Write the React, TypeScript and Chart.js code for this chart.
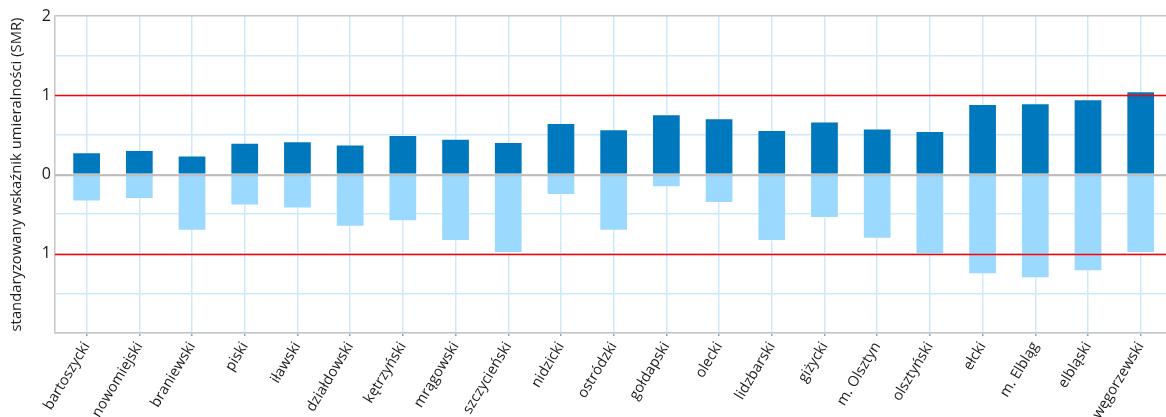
import React, { useEffect, useRef } from "react";
import { Chart, registerables } from "chart.js";

Chart.register(...registerables);

const categories = [
  "bartoszycki",
  "nowomiejski",
  "braniewski",
  "piski",
  "iławski",
  "działdowski",
  "kętrzyński",
  "mrągowski",
  "szczycieński",
  "nidzicki",
  "ostródzki",
  "gołdapski",
  "olecki",
  "lidzbarski",
  "giżycki",
  "m. Olsztyn",
  "olsztyński",
  "ełcki",
  "m. Elbląg",
  "elbląski",
  "węgorzewski",
];

const upperValues = [
  0.28, 0.31, 0.24, 0.4, 0.42, 0.38, 0.5, 0.45, 0.41, 0.65, 0.57, 0.76, 0.71,
  0.56, 0.67, 0.58, 0.55, 0.89, 0.9, 0.95, 1.05,
];

const lowerValues = [
  -0.34, -0.31, -0.71, -0.39, -0.43, -0.66, -0.59, -0.84, -0.99, -0.26, -0.71,
  -0.16, -0.36, -0.84, -0.55, -0.81, -1.01, -1.26, -1.31, -1.22, -0.99,
];

const yGridValues = [-2, -1.5, -1, -0.5, 0, 0.5, 1, 1.5, 2];
const yLabelledValues = [2, 1, 0, -1];
const referenceLines = [1, -1];

const yTitle = "standaryzowany wskaźnik umieralności (SMR)";

const DARK = "#0078BE";
const LIGHT = "#9BD9FF";
const GRID_BLUE = "#CDE9FB";
const AXIS_GREY = "#C6C6C6";
const RED = "#FF0000";
const FONT = "'Open Sans', 'Noto Sans', sans-serif";
const LABEL_ROTATION = 59;

const overlayLines = {
  id: "overlayLines",
  afterDatasetsDraw(chart: any) {
    const { ctx, chartArea, scales } = chart;
    const y = scales.y;
    ctx.save();
    ctx.lineWidth = 1.5;
    ctx.strokeStyle = "#BDBDBD";
    const y0 = Math.round(y.getPixelForValue(0)) + 0.5;
    ctx.beginPath();
    ctx.moveTo(chartArea.left, y0);
    ctx.lineTo(chartArea.right, y0);
    ctx.stroke();
    ctx.strokeStyle = RED;
    for (const v of referenceLines) {
      const py = Math.round(y.getPixelForValue(v)) + 0.5;
      ctx.beginPath();
      ctx.moveTo(chartArea.left, py);
      ctx.lineTo(chartArea.right, py);
      ctx.stroke();
    }
    ctx.restore();
  },
};

export default function App() {
  const ref = useRef<HTMLCanvasElement>(null);

  useEffect(() => {
    document.body.style.margin = "0";
    const chart = new Chart(ref.current!, {
      type: "bar",
      data: {
        datasets: [
          {
            data: upperValues.map((v, i) => ({ x: i, y: v })),
            backgroundColor: DARK,
            borderColor: "rgba(255,255,255,0.35)",
            borderWidth: 1,
            barPercentage: 0.545,
            categoryPercentage: 1,
          },
          {
            data: lowerValues.map((v, i) => ({ x: i, y: v })),
            backgroundColor: LIGHT,
            borderColor: "rgba(255,255,255,0.5)",
            borderWidth: 1,
            barPercentage: 0.545,
            categoryPercentage: 1,
          },
        ],
      } as any,
      options: {
        responsive: false,
        animation: false,
        layout: { padding: { top: 16, left: 0, right: 0, bottom: 0 } },
        plugins: {
          legend: { display: false },
          tooltip: { enabled: false },
        },
        scales: {
          x: {
            type: "linear",
            min: -0.6,
            max: 20.48,
            stacked: true,
            offset: false,
            afterBuildTicks: (s: any) => {
              s.ticks = categories.map((_, i) => ({ value: i }));
            },
            afterCalculateLabelRotation: (s: any) => {
              s.labelRotation = LABEL_ROTATION;
            },
            afterFit: (s: any) => {
              s.height = 84;
            },
            ticks: {
              autoSkip: false,
              maxRotation: LABEL_ROTATION,
              minRotation: LABEL_ROTATION,
              padding: 3,
              color: "#1a1a1a",
              font: { family: FONT, size: 14.5 },
              callback: (v: any) => categories[v as number] ?? "",
            },
            grid: {
              offset: false,
              color: GRID_BLUE,
              lineWidth: 1.5,
              tickLength: 3,
              tickColor: "#A0A0A0",
            },
            border: { color: AXIS_GREY, width: 1.5 },
          },
          y: {
            min: -2,
            max: 2,
            stacked: true,
            afterBuildTicks: (s: any) => {
              s.ticks = yGridValues.map((v) => ({ value: v }));
            },
            afterFit: (s: any) => {
              s.width = 55;
            },
            ticks: {
              padding: 4,
              color: "#1a1a1a",
              font: { family: FONT, size: 16 },
              callback: (v: any) =>
                yLabelledValues.includes(v as number)
                  ? String(Math.abs(v as number))
                  : "",
            },
            grid: {
              drawTicks: false,
              lineWidth: 1.5,
              color: (c: any) => {
                const v = c.tick?.value;
                if (v === 2 || v === 0) return AXIS_GREY;
                return GRID_BLUE;
              },
            },
            border: { color: AXIS_GREY, width: 1.5 },
            title: {
              display: true,
              text: yTitle,
              color: "#1a1a1a",
              font: { family: FONT, size: 14.8 },
              padding: { top: 8, bottom: 0 },
            },
          },
        },
      } as any,
      plugins: [overlayLines],
    });
    return () => chart.destroy();
  }, []);

  return (
    <div
      style={{
        position: "fixed",
        left: 0,
        top: 0,
        width: 1166,
        height: 417,
        background: "#fff",
        overflow: "hidden",
      }}
    >
      <canvas ref={ref} width={1166} height={417} />
    </div>
  );
}
